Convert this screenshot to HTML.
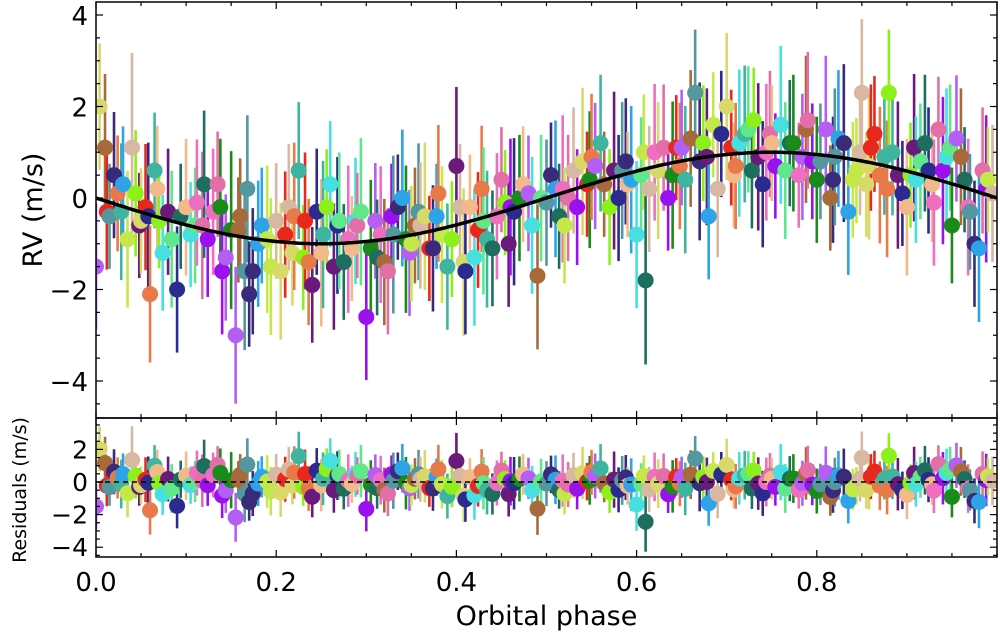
<!DOCTYPE html>
<html><head><meta charset="utf-8">
<style>
html,body{margin:0;padding:0;background:#fff;}
svg{display:block;font-family:"DejaVu Sans","Liberation Sans",sans-serif;}
</style></head>
<body>
<svg id="chart" width="1000" height="636" viewBox="0 0 1000 636" xmlns="http://www.w3.org/2000/svg">
<g id="main-marks"></g>
<g id="res-marks"></g>
<g id="axes"></g>
</svg>
<script>
const phases = [0.00,0.01,0.015,0.02,0.03,0.035,0.04,0.05,0.055,0.06,0.065,0.07,0.08,0.09,0.10,0.105,0.11,0.12,0.13,0.135,0.14,0.15,0.155,0.16,0.165,0.17,0.18,0.19,0.20,0.205,0.21,0.22,0.225,0.23,0.24,0.245,0.25,0.26,0.27,0.275,0.28,0.29,0.30,0.305,0.31,0.32,0.33,0.335,0.34,0.35,0.36,0.365,0.37,0.38,0.39,0.395,0.40,0.41,0.415,0.42,0.43,0.44,0.445,0.45,0.46,0.47,0.48,0.49,0.50,0.505,0.51,0.52,0.53,0.54,0.545,0.55,0.56,0.57,0.575,0.58,0.59,0.60,0.605,0.61,0.62,0.63,0.635,0.64,0.65,0.66,0.665,0.67,0.68,0.685,0.69,0.70,0.705,0.71,0.72,0.73,0.735,0.74,0.75,0.76,0.765,0.77,0.78,0.79,0.795,0.80,0.81,0.815,0.82,0.83,0.835,0.84,0.85,0.855,0.86,0.87,0.875,0.88,0.89,0.895,0.90,0.91,0.915,0.92,0.93,0.935,0.94,0.95,0.955,0.96,0.97,0.975,0.98,0.99,0.995];
const rvValues = [-1.5,1.1,-0.4,0.5,0.3,-0.9,1.1,-0.5,-0.2,-2.1,0.6,-0.5,-0.3,-2.0,-0.2,-0.8,-0.6,0.3,-0.3,0.3,-1.6,-0.7,-3.0,-0.4,-1.6,-2.1,-1.0,-0.9,-0.5,-1.6,-0.8,-0.4,0.6,-1.3,-1.9,-0.3,-1.2,0.3,-0.5,-1.4,-0.9,-0.6,-2.6,-1.1,-0.5,-1.4,-0.8,-0.2,0.0,-1.0,-0.6,-0.4,-1.1,0.1,-1.5,-0.9,0.7,-1.6,-0.2,-1.3,-0.5,-1.1,-0.4,0.4,-0.2,0.0,0.1,-1.7,-0.1,0.5,0.2,-0.6,0.6,0.8,0.3,0.9,1.2,-0.2,0.6,0.0,0.3,-0.8,0.5,-1.8,1.0,1.1,0.0,0.5,1.1,1.3,2.3,0.8,-0.4,1.6,0.2,2.0,1.1,0.7,1.4,1.7,0.9,0.3,1.2,1.6,0.6,1.2,0.5,1.7,0.8,0.4,1.5,0.0,0.9,1.2,-0.3,0.4,2.3,0.3,1.1,0.5,0.9,2.3,0.5,0.1,-0.2,0.4,0.8,1.2,-0.1,1.5,0.6,-0.6,1.3,0.9,-0.3,-1.0,-1.1,0.4,0.1,2.0,-0.3];
const errValues = [1.2,1.4,1.0,1.2,1.1,1.3,1.8,1.0,1.2,1.3,1.1,0.9,1.2,1.2,1.3,1.0,1.1,1.4,1.2,1.0,1.2,1.5,1.3,1.1,1.5,1.0,1.2,1.4,1.1,1.3,1.2,1.4,1.3,1.0,1.1,1.2,1.4,1.2,1.3,1.1,1.4,1.0,1.2,1.3,1.1,1.2,1.5,1.0,1.3,1.1,1.2,1.4,1.0,1.3,1.2,1.1,1.5,1.2,1.0,1.3,1.4,1.1,1.2,1.0,1.3,1.2,1.1,1.4,1.2,1.0,1.3,1.1,1.2,1.4,1.0,1.2,1.3,1.1,1.5,1.2,1.0,1.4,1.1,1.6,1.3,1.2,1.0,1.4,1.1,1.3,1.2,1.5,1.2,1.0,1.3,1.4,1.1,1.2,1.3,1.0,1.4,1.2,1.1,1.5,1.3,1.2,1.0,1.3,1.1,1.2,1.4,1.0,1.3,1.5,1.2,1.1,1.4,1.0,1.2,1.3,1.1,1.2,1.4,1.0,1.3,1.2,1.1,1.3,1.2,1.0,1.4,1.1,1.2,1.3,1.1,1.2,1.4,1.0,1.3,1.2,1.1];
const phases2 = [0.004,0.012,0.024,0.028,0.044,0.048,0.058,0.068,0.074,0.084,0.094,0.112,0.118,0.124,0.138,0.144,0.158,0.168,0.174,0.184,0.194,0.214,0.218,0.232,0.236,0.252,0.256,0.264,0.268,0.284,0.288,0.294,0.312,0.316,0.324,0.328,0.344,0.348,0.354,0.358,0.374,0.378,0.384,0.404,0.408,0.424,0.428,0.434,0.454,0.458,0.464,0.474,0.484,0.494,0.514,0.518,0.524,0.534,0.548,0.554,0.564,0.584,0.588,0.594,0.608,0.614,0.624,0.644,0.648,0.654,0.674,0.678,0.694,0.708,0.714,0.724,0.728,0.744,0.748,0.754,0.774,0.784,0.788,0.804,0.818,0.824,0.844,0.848,0.858,0.864,0.878,0.884,0.904,0.908,0.924,0.928,0.944,0.948,0.964,0.968,0.984,0.988];
const rv2 = [0.1,-0.3,0.1,-0.6,-0.4,0.2,-1.2,-0.9,-0.4,-0.1,-0.6,-0.9,-0.2,-1.3,-0.7,0.2,-1.6,-0.6,-1.5,-0.2,-1.2,-0.5,-1.4,-0.8,-0.2,-1.5,-0.6,-1.1,-0.5,-0.3,-1.3,-0.8,-1.6,-0.4,-0.9,-1.2,-0.6,-0.3,-1.1,-0.4,-0.8,-0.2,-1.4,-0.7,0.2,-0.9,-0.1,-1.0,-0.3,0.3,-0.6,0.0,-0.4,0.2,0.0,-0.2,0.4,0.7,0.3,0.6,0.8,0.4,1.0,0.2,0.6,1.1,0.7,0.4,1.2,0.9,1.4,0.5,1.2,1.5,0.6,1.0,1.4,0.7,1.2,0.9,1.5,0.8,0.4,1.3,0.6,1.0,0.7,1.4,0.2,1.0,0.5,1.1,0.6,0.3,0.9,1.1,0.4,-0.2,0.6,0.2,-0.4,0.5];
const err2 = [1.1,1.3,1.2,1.0,1.4,1.2,1.1,1.3,1.0,1.2,1.4,1.1,1.3,1.2,1.0,1.4,1.2,1.1,1.3,1.2,1.0,1.3,1.2,1.4,1.1,1.2,1.3,1.0,1.2,1.4,1.1,1.3,1.2,1.0,1.4,1.2,1.1,1.3,1.2,1.0,1.3,1.2,1.4,1.1,1.2,1.3,1.0,1.2,1.4,1.1,1.3,1.2,1.0,1.4,1.2,1.1,1.3,1.2,1.0,1.3,1.2,1.4,1.1,1.2,1.3,1.0,1.2,1.4,1.1,1.3,1.2,1.0,1.4,1.2,1.1,1.3,1.2,1.0,1.3,1.2,1.4,1.1,1.2,1.3,1.0,1.2,1.4,1.1,1.3,1.2,1.0,1.4,1.2,1.1,1.3,1.2,1.0,1.3,1.2,1.4,1.1,1.2];
const xTicks = [0.0,0.2,0.4,0.6,0.8];
const xTickLabels = ["0.0","0.2","0.4","0.6","0.8"];
const yTicks = [-4,-2,0,2,4];
const yTickLabels = ["\u22124","\u22122","0","2","4"];
const resTicks = [-4,-2,0,2];
const resTickLabels = ["\u22124","\u22122","0","2"];
const palette = ["#b45ef5","#e36fa8","#5ee88a","#2b2b8f","#3fb5a0","#d9d96a","#2ea3e8","#a86a3a","#9b10ef","#1d6e5e","#f2b98a","#8ef01a","#e8281d","#c4e84a","#54979f","#1a8a1a","#f06ec0","#46e0e0","#6a1a7a","#e87a4a","#d8b8a0","#3a2a7a"];

const SVGNS="http://www.w3.org/2000/svg";
const X0=96, X1=997;
const sx = p => X0 + (X1-X0)*p;
const sy = v => 198 - 45.75*v;
const sr = v => 482 - 16.3*v;
const model = p => -Math.sin(2*Math.PI*p);

function mk(tag, attrs, parent){const e=document.createElementNS(SVGNS,tag);for(const k in attrs)e.setAttribute(k,attrs[k]);parent.appendChild(e);return e;}

const gm=document.getElementById('main-marks');
const gr=document.getElementById('res-marks');
const ax=document.getElementById('axes');

const defs=mk('defs',{},document.getElementById('chart'));
const c1=mk('clipPath',{id:'clipMain'},defs); mk('rect',{x:X0,y:2,width:X1-X0,height:416},c1);
const c2=mk('clipPath',{id:'clipRes'},defs); mk('rect',{x:X0,y:418,width:X1-X0,height:139},c2);
gm.setAttribute('clip-path','url(#clipMain)');
gr.setAttribute('clip-path','url(#clipRes)');

const allP=phases.concat(phases2), allV=rvValues.concat(rv2), allE=errValues.concat(err2);
const order=allP.map((p,i)=>i).sort((a,b)=>allP[a]-allP[b]);
function col(i){return palette[(i*7)%palette.length];}

order.forEach(i=>{
  const p=allP[i], v=allV[i], e=allE[i]*1.15, c=col(i);
  const l=mk('line',{x1:sx(p),x2:sx(p),y1:sy(v-e),y2:sy(v+e),stroke:c,'stroke-width':2.6},gm);
  
  
  const r=v-model(p);
  const l2=mk('line',{x1:sx(p),x2:sx(p),y1:sr(r-e),y2:sr(r+e),stroke:c,'stroke-width':2.6},gr);
  
  
});
order.forEach(i=>{
  const p=allP[i], v=allV[i], c=col(i);
  const cc=mk('circle',{cx:sx(p),cy:sy(v),r:8,fill:c},gm);
  
  
  const r=v-model(p);
  const c3=mk('circle',{cx:sx(p),cy:sr(r),r:8,fill:c},gr);
  
  
});
let d='';
for(let k=0;k<=200;k++){const p=k/200;d+=(k?'L':'M')+sx(p).toFixed(1)+','+sy(model(p)).toFixed(1);}
const mc=mk('path',{d:d,fill:'none',stroke:'#000','stroke-width':3.5},gm);


const zl=mk('line',{x1:X0,x2:X1,y1:sr(0),y2:sr(0),stroke:'#000','stroke-width':1.5,'stroke-dasharray':'5,4'},gr);



const f1=mk('rect',{x:X0,y:2,width:X1-X0,height:416,fill:'none',stroke:'#000','stroke-width':1.5},ax);


const f2=mk('rect',{x:X0,y:418,width:X1-X0,height:139,fill:'none',stroke:'#000','stroke-width':1.5},ax);



for(let k=0;k<=20;k++){
  const p=k*0.05; const major=(k%4===0); const L=major?7:4;
  [[2,1],[418,-1],[418,1],[557,-1]].forEach(([y,dir])=>{
    mk('line',{x1:sx(p),x2:sx(p),y1:y,y2:y+dir*L,stroke:'#000','stroke-width':1.2},ax);
  });
}
xTicks.forEach((t,i)=>{
  const tx=mk('text',{x:sx(t),y:591,'font-size':26,'text-anchor':'middle',fill:'#000'},ax);
  tx.textContent=xTickLabels[i];
  
  
});
for(let v=-4.5;v<=4.01;v+=0.5){
  const major=Math.abs(v%2)<1e-6; const L=major?7:4;
  mk('line',{x1:X0,x2:X0+L,y1:sy(v),y2:sy(v),stroke:'#000','stroke-width':1.2},ax);
  mk('line',{x1:X1,x2:X1-L,y1:sy(v),y2:sy(v),stroke:'#000','stroke-width':1.2},ax);
}
yTicks.forEach((t,i)=>{
  const tx=mk('text',{x:88,y:sy(t)+10,'font-size':26,'text-anchor':'end',fill:'#000'},ax);
  tx.textContent=yTickLabels[i];
  
  
});
for(let v=-4.5;v<=3.51;v+=0.5){
  const major=Math.abs(v%2)<1e-6; const L=major?7:4;
  mk('line',{x1:X0,x2:X0+L,y1:sr(v),y2:sr(v),stroke:'#000','stroke-width':1.2},ax);
  mk('line',{x1:X1,x2:X1-L,y1:sr(v),y2:sr(v),stroke:'#000','stroke-width':1.2},ax);
}
resTicks.forEach((t,i)=>{
  const tx=mk('text',{x:88,y:sr(t)+9,'font-size':25,'text-anchor':'end',fill:'#000'},ax);
  tx.textContent=resTickLabels[i];
  
  
});
const xt=mk('text',{x:sx(0.5),y:625,'font-size':27,'text-anchor':'middle',fill:'#000'},ax);
xt.textContent='Orbital phase';


const yt=mk('text',{x:0,y:0,'font-size':27,'text-anchor':'middle',fill:'#000',transform:'translate(42,210) rotate(-90)'},ax);
yt.textContent='RV (m/s)';


const rt=mk('text',{x:0,y:0,'font-size':19,'text-anchor':'middle',fill:'#000',transform:'translate(26,490) rotate(-90)'},ax);
rt.textContent='Residuals (m/s)';


</script>
</body></html>
